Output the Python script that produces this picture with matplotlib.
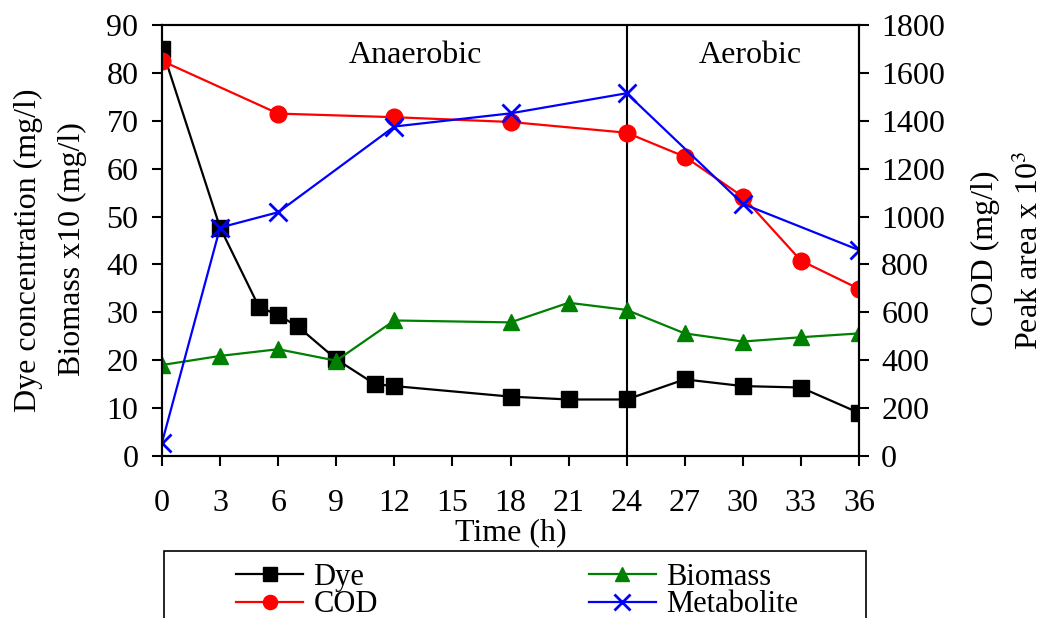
import matplotlib
matplotlib.use('Agg')
from matplotlib import pyplot as plt
from matplotlib.patches import Rectangle

plt.rcParams['font.family'] = ['Liberation Serif', 'DejaVu Serif']
plt.rcParams['mathtext.fontset'] = 'stix'
plt.rcParams['font.size'] = 23

# dye and biomass (left axis)
t_dye = [0, 3, 5, 6, 7, 9, 11, 12, 18, 21, 24, 27, 30, 33, 36]
dye = [85, 47.7, 31.2, 29.4, 27.1, 20.2, 15.0, 14.6, 12.4, 11.8, 11.8, 16.0, 14.6, 14.3, 9.0]

t_bio = [0, 3, 6, 9, 12, 18, 21, 24, 27, 30, 33, 36]
biomass = [19.0, 20.9, 22.3, 19.9, 28.3, 27.9, 32.0, 30.5, 25.6, 23.9, 24.8, 25.6]

# COD and metabolite peak area (right axis)
t_cod = [0, 6, 12, 18, 24, 27, 30, 33, 36]
cod = [1650, 1430, 1415, 1395, 1350, 1250, 1083, 816, 698]

t_met = [0, 3, 6, 12, 18, 24, 30, 36]
metabolite = [56, 954, 1018, 1376, 1431, 1515, 1053, 860]

xticks = list(range(0, 37, 3))
FS = 23

fig = plt.figure(figsize=(10.45, 6.18), dpi=100)
ax = fig.add_axes([162 / 1045, 1 - 456 / 618, 697 / 1045, 431 / 618])
ax2 = ax.twinx()

lw = 1.6
h1, = ax.plot(t_dye, dye, color='black', lw=lw, marker='s', ms=11.5, label='Dye')
h2, = ax.plot(t_bio, biomass, color='#008000', lw=lw, marker='^', ms=12, label='Biomass')
h3, = ax2.plot(t_cod, cod, color='#ff0000', lw=lw, marker='o', ms=12, label='COD')
h4, = ax2.plot(t_met, metabolite, color='#0000ff', lw=lw, marker='x', ms=13, mew=2, label='Metabolite')

ax.axvline(24, color='black', lw=1.5, zorder=1)

ax.set_xlim(0, 36)
ax.set_ylim(0, 90)
ax2.set_ylim(0, 1800)
ax.set_xticks(xticks)
ax.set_yticks(range(0, 91, 10))
ax2.set_yticks(range(0, 1801, 200))

for a in (ax, ax2):
    for s in a.spines.values():
        s.set_linewidth(1.5)
ax.tick_params(axis='both', direction='out', length=7, width=1.5, labelsize=FS)
ax.tick_params(axis='x', pad=17)
ax.tick_params(axis='y', pad=10)
ax2.tick_params(axis='y', direction='out', length=7, width=1.5, labelsize=FS, pad=9)

ax.set_xlabel('Time (h)', fontsize=FS, labelpad=0)

ax.text(13.1, 83.6, 'Anaerobic', ha='center', va='center', fontsize=FS)
ax.text(30.4, 83.6, 'Aerobic', ha='center', va='center', fontsize=FS)

fig.text(28 / 1045, 1 - 250 / 618, 'Dye concentration (mg/l)', rotation=90,
         ha='center', va='center', fontsize=FS)
fig.text(72 / 1045, 1 - 249 / 618, 'Biomass x10 (mg/l)', rotation=90,
         ha='center', va='center', fontsize=FS)
fig.text(985 / 1045, 1 - 248 / 618, 'COD (mg/l)', rotation=90,
         ha='center', va='center', fontsize=FS)
fig.text(1030 / 1045, 1 - 250 / 618, 'Peak area x 10$^3$', rotation=90,
         ha='center', va='center', fontsize=FS)

# legend box running off the bottom edge
fig.add_artist(Rectangle((164 / 1045, -0.05), 702 / 1045, 0.05 + 1 - 551 / 618,
                         transform=fig.transFigure, fill=False, lw=1.2, edgecolor='black'))
fig.legend([h1, h3, h2, h4], ['Dye', 'COD', 'Biomass', 'Metabolite'], ncol=2,
           loc='upper left', bbox_to_anchor=(236 / 1045, 1 - 563 / 618), frameon=False,
           fontsize=22, handlelength=2.2, handletextpad=0.33, columnspacing=6.9,
           labelspacing=-0.05, borderpad=0, borderaxespad=0, markerscale=0.85)

fig.savefig('out.png', dpi=100)
